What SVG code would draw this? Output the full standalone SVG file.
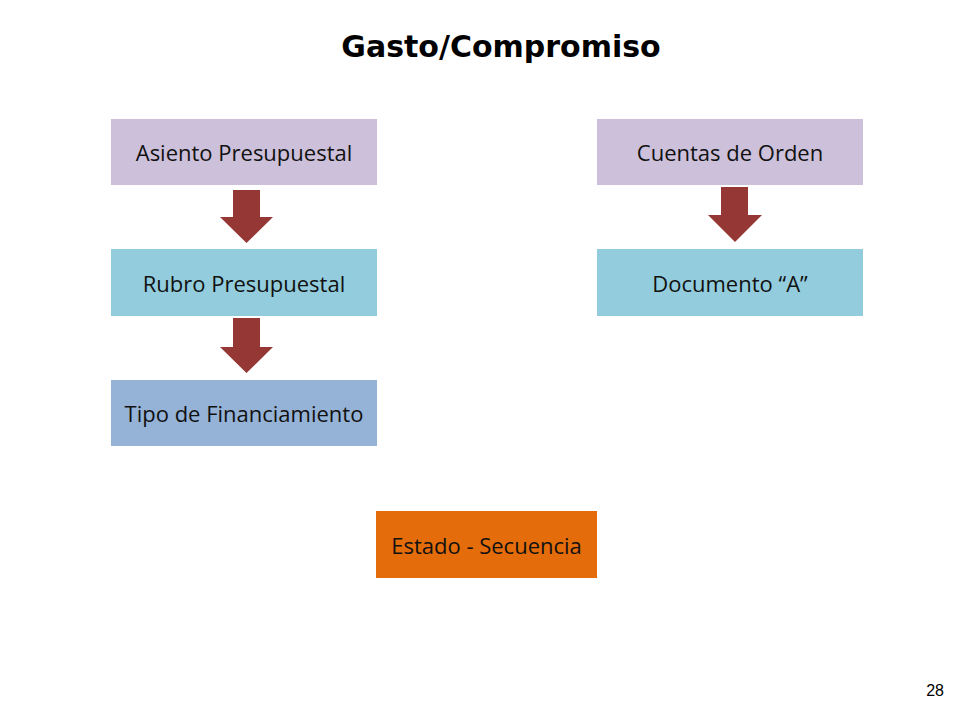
<svg xmlns="http://www.w3.org/2000/svg" width="960" height="720" viewBox="0 0 960 720">
<style>
.box{stroke:none}
.lbl{font-family:"Open Sans","Liberation Sans",sans-serif;font-size:22px;fill:#111;text-anchor:middle;dominant-baseline:central}
.arrow{fill:#953735}
.title{font-family:"DejaVu Sans","Liberation Sans",sans-serif;font-weight:bold;font-size:30px;fill:#000;text-anchor:middle}
</style>
<rect width="960" height="720" fill="#ffffff"/>
<text class="title" x="501" y="57">Gasto/Compromiso</text>
<g id="asiento"><rect class="box" x="111" y="119" width="266" height="66" fill="#CCC0DA"/><text class="lbl" x="244" y="152">Asiento Presupuestal</text></g>
<g id="rubro"><rect class="box" x="111" y="249" width="266" height="67" fill="#93CDDD"/><text class="lbl" x="244" y="282.5">Rubro Presupuestal</text></g>
<g id="tipo"><rect class="box" x="111" y="380" width="266" height="66" fill="#95B3D7"/><text class="lbl" x="244" y="413">Tipo de Financiamiento</text></g>
<g id="cuentas"><rect class="box" x="597" y="119" width="266" height="66" fill="#CCC0DA"/><text class="lbl" x="730" y="152">Cuentas de Orden</text></g>
<g id="documento"><rect class="box" x="597" y="249" width="266" height="67" fill="#93CDDD"/><text class="lbl" x="730" y="282.5">Documento “A”</text></g>
<g id="estado"><rect class="box" x="376" y="511" width="221" height="67" fill="#E46C0A"/><text class="lbl" x="486.5" y="544.5">Estado - Secuencia</text></g>
<g id="connectors">
<polygon class="arrow" points="233,190 260,190 260,217 273,217 246.5,243 220,217 233,217"/>
<polygon class="arrow" points="233,318 260,318 260,347 273,347 246.5,373 220,347 233,347"/>
<polygon class="arrow" points="721,187 748,187 748,215 762,215 735,242 708,215 721,215"/>
</g>
<text x="944" y="696" font-family="Liberation Sans, Arial, sans-serif" font-size="16" fill="#000" text-anchor="end">28</text>
</svg>
